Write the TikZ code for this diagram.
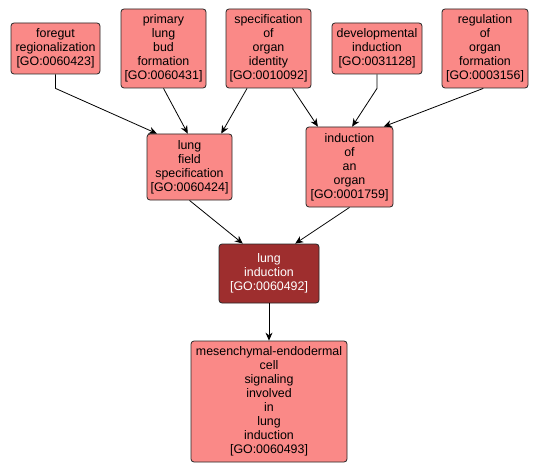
\documentclass[tikz,border=0pt]{standalone}
\usepackage{fontspec}
\setmainfont{Liberation Sans}
\usetikzlibrary{arrows.meta,calc}
\definecolor{salmon}{RGB}{250,137,135}
\definecolor{darkterm}{RGB}{158,46,46}
\begin{document}
\begin{tikzpicture}[x=1pt,y=-1pt,
 term/.style={draw=black!85, line width=0.8pt, rounded corners=3pt, fill=salmon, align=center, font=\fontsize{12.4}{14}\selectfont, inner sep=0pt, text=black},
 focus/.style={term, fill=darkterm, text=white},
 edge/.style={line width=0.8pt, -{Stealth[length=8pt,width=7pt]}}]
\useasboundingbox[fill=white] (0,0) rectangle (540,473);
\node[term, minimum width=89pt, minimum height=51pt] (A) at (55.5,48.5) {foregut\\regionalization\\{[GO:0060423]}};
\node[term, minimum width=85pt, minimum height=79pt] (B) at (163.5,48.5) {primary\\lung\\bud\\formation\\{[GO:0060431]}};
\node[term, minimum width=85pt, minimum height=79pt] (C) at (268.5,48.5) {specification\\of\\organ\\identity\\{[GO:0010092]}};
\node[term, minimum width=90pt, minimum height=51pt] (D) at (377,48.5) {developmental\\induction\\{[GO:0031128]}};
\node[term, minimum width=86pt, minimum height=79pt] (E) at (485,48.5) {regulation\\of\\organ\\formation\\{[GO:0003156]}};
\node[term, minimum width=85pt, minimum height=66pt] (F) at (189.5,167) {lung\\field\\specification\\{[GO:0060424]}};
\node[term, minimum width=87pt, minimum height=80pt] (G) at (349.5,167) {induction\\of\\an\\organ\\{[GO:0001759]}};
\node[focus, minimum width=100pt, minimum height=59pt] (H) at (269,273.5) {lung\\induction\\{[GO:0060492]}};
\node[term, minimum width=156pt, minimum height=121pt] (I) at (269,401.5) {mesenchymal-endodermal\\cell\\signaling\\involved\\in\\lung\\induction\\{[GO:0060493]}};
\draw[edge] (A.south) -- ++(0,14) -- ($(F.north west)!0.12!(F.north east)$);
\draw[edge] (B.south) -- ($(F.north west)!0.48!(F.north east)$);
\draw[edge] ($(C.south west)!0.25!(C.south east)$) -- ($(F.north west)!0.87!(F.north east)$);
\draw[edge] ($(C.south west)!0.78!(C.south east)$) -- ($(G.north west)!0.14!(G.north east)$);
\draw[edge] (D.south) -- ++(0,14) -- ($(G.north west)!0.53!(G.north east)$);
\draw[edge] ($(E.south west)!0.48!(E.south east)$) -- ($(G.north west)!0.89!(G.north east)$);
\draw[edge] (F.south) -- ($(H.north west)!0.24!(H.north east)$);
\draw[edge] (G.south) -- ($(H.north west)!0.76!(H.north east)$);
\draw[edge] (H.south) -- (I.north);
\end{tikzpicture}
\end{document}
